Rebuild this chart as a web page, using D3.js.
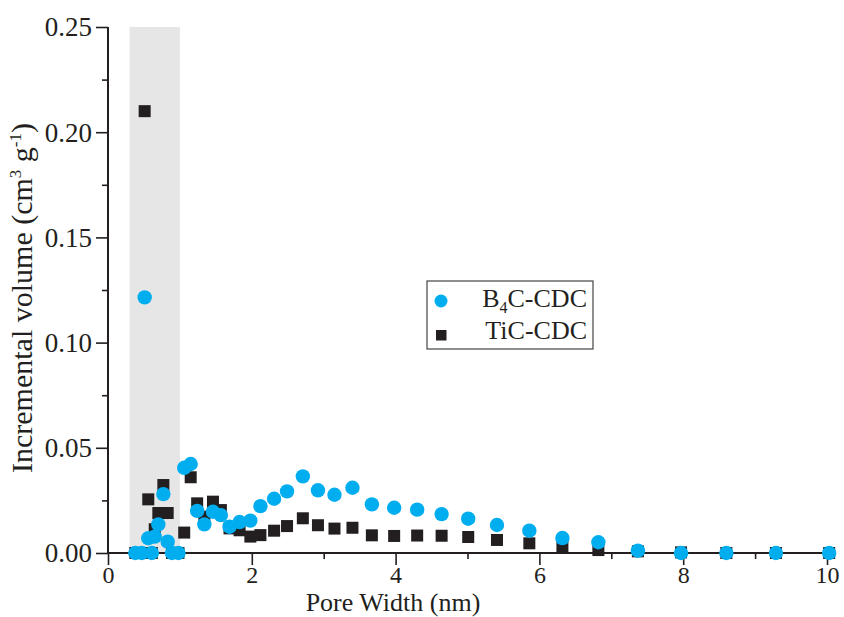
<!DOCTYPE html>
<html>
<head>
<meta charset="utf-8">
<script src="https://cdn.jsdelivr.net/npm/d3@7"></script>
<style>
  html, body { margin: 0; padding: 0; background: #fff; }
  svg { display: block; }
  text { font-family: "Liberation Serif", "Times New Roman", serif; fill: #231f20; }
</style>
</head>
<body>
<svg id="chart" width="844" height="617"></svg>
<script>
// ---- Data ----
const poreWidth = [0.38, 0.47, 0.51, 0.56, 0.61, 0.65, 0.70, 0.77, 0.83, 0.89, 0.98,
  1.06, 1.15, 1.24, 1.34, 1.46, 1.57, 1.69, 1.83, 1.98, 2.12, 2.31, 2.49, 2.71, 2.92,
  3.15, 3.40, 3.67, 3.98, 4.30, 4.64, 5.01, 5.41, 5.86, 6.32, 6.82, 7.37, 7.97, 8.60,
  9.29, 10.03];
const b4cValues = [0, 0, 0.1215, 0.0070, 0, 0.0078, 0.0136, 0.0280, 0.0054, 0, 0,
  0.0405, 0.0423, 0.0200, 0.0136, 0.0196, 0.0180, 0.0125, 0.0147, 0.0154, 0.0223, 0.0258,
  0.0293, 0.0364, 0.0298, 0.0277, 0.0310, 0.0231, 0.0215, 0.0206, 0.0185, 0.0163, 0.0133,
  0.0106, 0.0071, 0.0051, 0.0011, 0, 0, 0, 0];
const ticValues = [0, 0, 0.2100, 0.0255, 0, 0.0113, 0.0190, 0.0323, 0.0190, 0, 0,
  0.0097, 0.0360, 0.0236, 0.0173, 0.0244, 0.0204, 0.0117, 0.0108, 0.0078, 0.0085, 0.0106,
  0.0128, 0.0165, 0.0132, 0.0116, 0.0120, 0.0084, 0.0081, 0.0083, 0.0082, 0.0076, 0.0062,
  0.0046, 0.0030, 0.0014, 0.0008, 0.0003, 0, 0, 0];
const seriesNames = ["B", "4", "C-CDC", "TiC-CDC"];
const xMajorTicks = [0, 2, 4, 6, 8, 10];
const xMinorTicks = [1, 3, 5, 7, 9];
const yMajorTicks = [0, 0.05, 0.10, 0.15, 0.20, 0.25];
const yMinorTicks = [0.025, 0.075, 0.125, 0.175, 0.225];
const highlightBand = [0.3, 1.0];

// ---- Layout ----
const svg = d3.select("#chart");
const x = d3.scaleLinear().domain([0, 10]).range([108, 827]);
const y = d3.scaleLinear().domain([0, 0.25]).range([553, 27]);
const blue = "#00aeef", black = "#231f20";

// gray band
svg.append("rect")
  .attr("x", x(highlightBand[0])).attr("width", x(highlightBand[1]) - x(highlightBand[0]))
  .attr("y", y(0.25)).attr("height", y(0) - y(0.25))
  .attr("fill", "#e6e6e6");

// axes
const yAxisMinor = svg.append("g").attr("transform", `translate(${x(0)},0)`)
  .call(d3.axisLeft(y).tickValues(yMinorTicks).tickSize(6).tickFormat(""));
const yAxis = svg.append("g").attr("transform", `translate(${x(0)},0)`)
  .call(d3.axisLeft(y).tickValues(yMajorTicks).tickSize(12).tickPadding(4)
    .tickFormat(d3.format(".2f")));
const xAxisMinor = svg.append("g").attr("transform", `translate(0,${y(0)})`)
  .call(d3.axisBottom(x).tickValues(xMinorTicks).tickSize(6).tickFormat(""));
const xAxis = svg.append("g").attr("transform", `translate(0,${y(0)})`)
  .call(d3.axisBottom(x).tickValues(xMajorTicks).tickSize(12).tickPadding(1)
    .tickFormat(d3.format("d")));

[yAxisMinor, yAxis, xAxisMinor, xAxis].forEach(g => {
  g.select(".domain").attr("stroke", black).attr("stroke-width", 2);
  g.selectAll(".tick line").attr("stroke", black).attr("stroke-width", 1.6);
  g.selectAll(".tick text").style("font-family", '"Liberation Serif", serif')
    .attr("fill", black);
});
yAxis.selectAll(".tick text").style("font-size", "27px").attr("dy", "0.33em");
xAxis.selectAll(".tick text").style("font-size", "24px");
yAxisMinor.select(".domain").remove();
xAxisMinor.select(".domain").remove();
yAxis.select(".domain").attr("d", `M0,${y(0.25)}V${y(0)}`);
xAxis.select(".domain").attr("d", `M${x(0)},0H${x(10)}`);

// axis titles
svg.append("text")
  .attr("x", 393).attr("y", 611)
  .attr("text-anchor", "middle").style("font-size", "26px")
  .text("Pore Width (nm)");

const yt = svg.append("text")
  .attr("transform", `translate(32,${(y(0) + y(0.25)) / 2 + 8}) rotate(-90)`)
  .attr("text-anchor", "middle").style("font-size", "30px");
yt.append("tspan").text("Incremental volume (cm");
yt.append("tspan").attr("dy", -11).style("font-size", "17px").text("3");
yt.append("tspan").attr("dy", 11).text(" g");
yt.append("tspan").attr("dy", -11).style("font-size", "17px").text("-1");
yt.append("tspan").attr("dy", 11).text(")");

// data points: squares first, circles on top
const pts = poreWidth.map((w, i) => ({ w, b: b4cValues[i], t: ticValues[i] }));
const sq = 12;
svg.append("g").selectAll("rect").data(pts).join("rect")
  .attr("x", d => x(d.w) - sq / 2).attr("y", d => y(d.t) - sq / 2)
  .attr("width", sq).attr("height", sq).attr("fill", black);
svg.append("g").selectAll("circle").data(pts).join("circle")
  .attr("cx", d => x(d.w)).attr("cy", d => y(d.b)).attr("r", 7.2).attr("fill", blue);

// legend
const lg = svg.append("g");
lg.append("rect").attr("x", 427).attr("y", 281).attr("width", 166).attr("height", 68)
  .attr("fill", "#fff").attr("stroke", "#444").attr("stroke-width", 1.2);
lg.append("circle").attr("cx", 441).attr("cy", 301).attr("r", 6.5).attr("fill", blue);
lg.append("rect").attr("x", 436).attr("y", 330).attr("width", 10.5).attr("height", 10.5).attr("fill", black);
const t1 = lg.append("text").attr("x", 587).attr("y", 307).attr("text-anchor", "end")
  .style("font-size", "26px");
t1.append("tspan").text(seriesNames[0]);
t1.append("tspan").attr("dy", 6).style("font-size", "16px").text(seriesNames[1]);
t1.append("tspan").attr("dy", -6).text(seriesNames[2]);
lg.append("text").attr("x", 587).attr("y", 339).attr("text-anchor", "end")
  .style("font-size", "26px").text(seriesNames[3]);
</script>
</body>
</html>
